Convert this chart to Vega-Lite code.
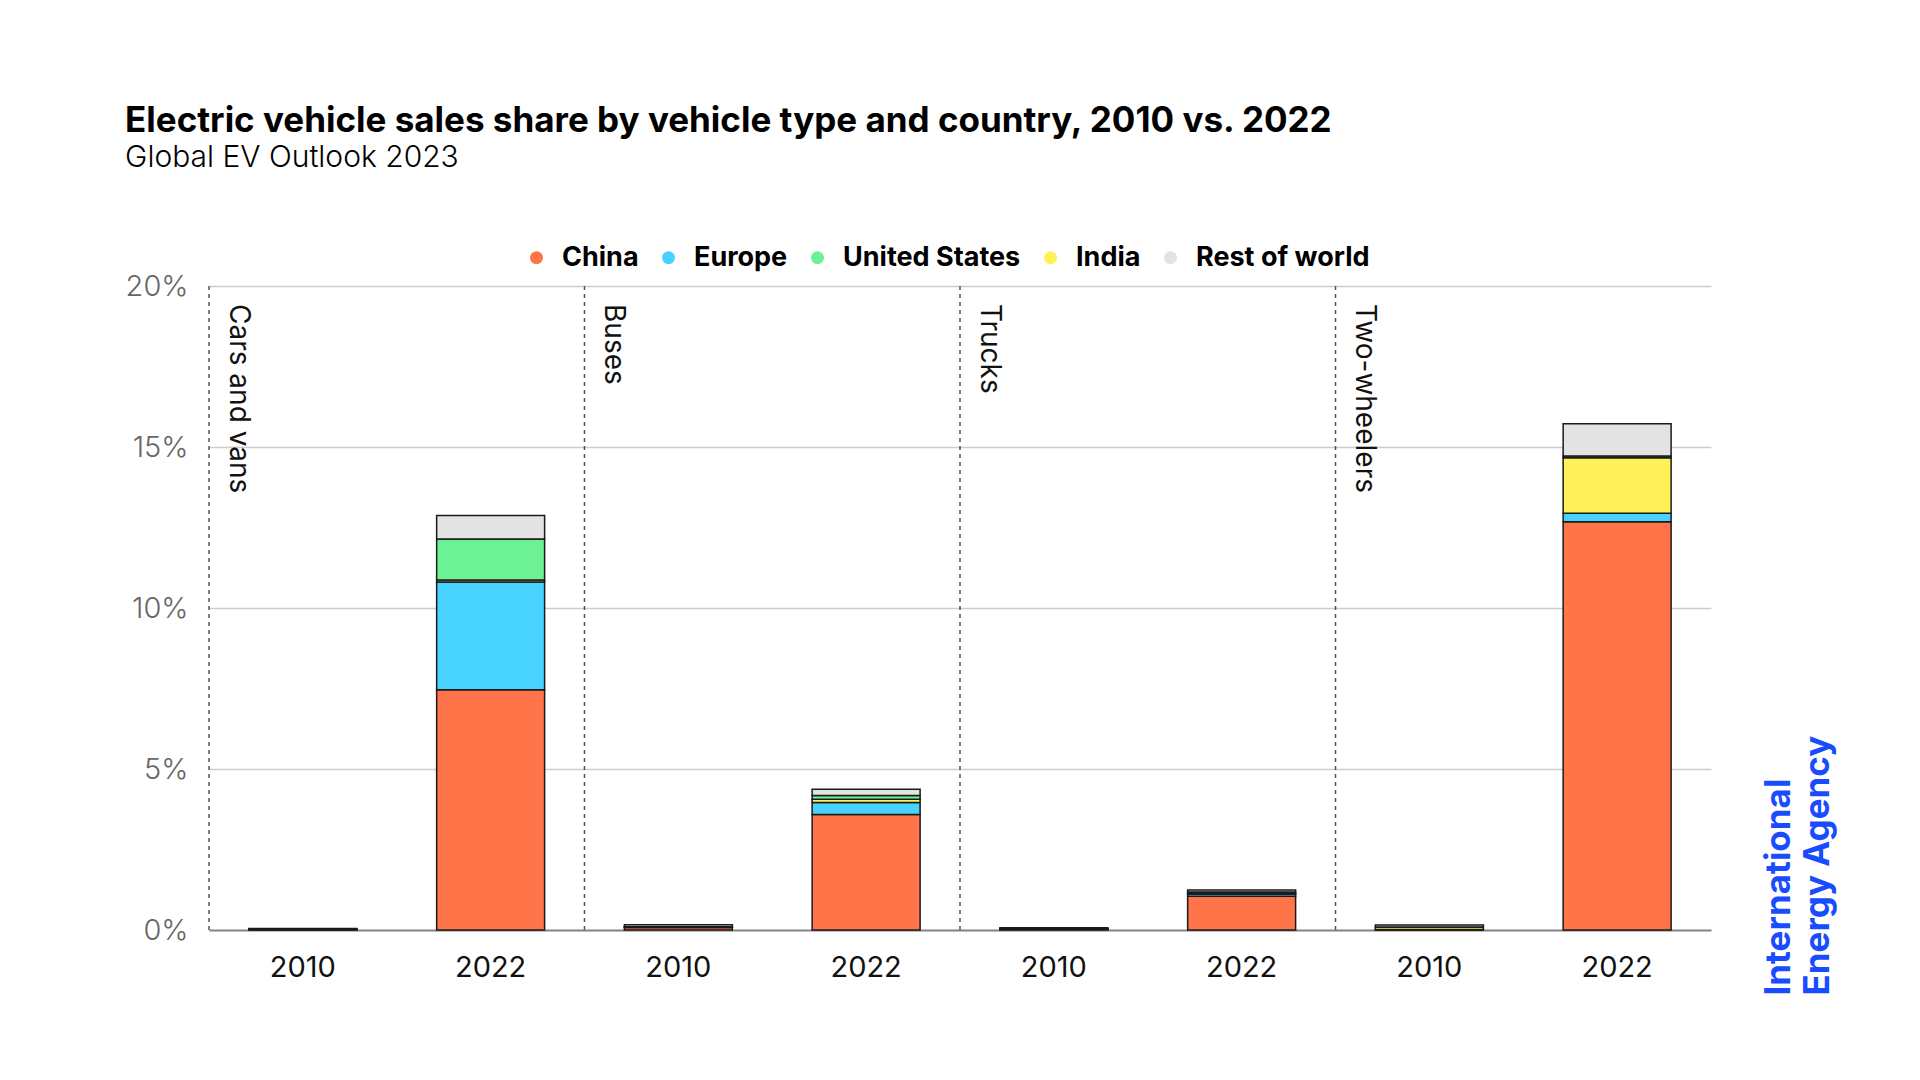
{
  "$schema": "https://vega.github.io/schema/vega-lite/v6.json",
  "width": 1502,
  "height": 644,
  "padding": {"left": 125, "top": 104, "right": 20, "bottom": 20},
  "background": "white",
  "title": {
    "text": "Electric vehicle sales share by vehicle type and country, 2010 vs. 2022",
    "subtitle": "Global EV Outlook 2023",
    "anchor": "start",
    "frame": "bounds",
    "font": "Inter",
    "fontSize": 35,
    "fontWeight": "bold",
    "color": "#000000",
    "subtitleFont": "Inter",
    "subtitleFontSize": 30,
    "subtitleFontWeight": 300,
    "subtitleColor": "#000000",
    "subtitlePadding": 4,
    "offset": 71
  },
  "data": {
    "values": [
      {"bar": "Cars and vans 2010", "type": "Cars and vans", "year": "2010", "region": "China", "stackOrder": 1, "share": 0.01},
      {"bar": "Cars and vans 2010", "type": "Cars and vans", "year": "2010", "region": "Europe", "stackOrder": 2, "share": 0.01},
      {"bar": "Cars and vans 2010", "type": "Cars and vans", "year": "2010", "region": "India", "stackOrder": 3, "share": 0.0},
      {"bar": "Cars and vans 2010", "type": "Cars and vans", "year": "2010", "region": "United States", "stackOrder": 4, "share": 0.02},
      {"bar": "Cars and vans 2010", "type": "Cars and vans", "year": "2010", "region": "Rest of world", "stackOrder": 5, "share": 0.01},
      {"bar": "Cars and vans 2022", "type": "Cars and vans", "year": "2022", "region": "China", "stackOrder": 1, "share": 7.46},
      {"bar": "Cars and vans 2022", "type": "Cars and vans", "year": "2022", "region": "Europe", "stackOrder": 2, "share": 3.35},
      {"bar": "Cars and vans 2022", "type": "Cars and vans", "year": "2022", "region": "India", "stackOrder": 3, "share": 0.06},
      {"bar": "Cars and vans 2022", "type": "Cars and vans", "year": "2022", "region": "United States", "stackOrder": 4, "share": 1.27},
      {"bar": "Cars and vans 2022", "type": "Cars and vans", "year": "2022", "region": "Rest of world", "stackOrder": 5, "share": 0.73},
      {"bar": "Buses 2010", "type": "Buses", "year": "2010", "region": "China", "stackOrder": 1, "share": 0.08},
      {"bar": "Buses 2010", "type": "Buses", "year": "2010", "region": "Europe", "stackOrder": 2, "share": 0.01},
      {"bar": "Buses 2010", "type": "Buses", "year": "2010", "region": "India", "stackOrder": 3, "share": 0.0},
      {"bar": "Buses 2010", "type": "Buses", "year": "2010", "region": "United States", "stackOrder": 4, "share": 0.01},
      {"bar": "Buses 2010", "type": "Buses", "year": "2010", "region": "Rest of world", "stackOrder": 5, "share": 0.06},
      {"bar": "Buses 2022", "type": "Buses", "year": "2022", "region": "China", "stackOrder": 1, "share": 3.59},
      {"bar": "Buses 2022", "type": "Buses", "year": "2022", "region": "Europe", "stackOrder": 2, "share": 0.37},
      {"bar": "Buses 2022", "type": "Buses", "year": "2022", "region": "India", "stackOrder": 3, "share": 0.1},
      {"bar": "Buses 2022", "type": "Buses", "year": "2022", "region": "United States", "stackOrder": 4, "share": 0.12},
      {"bar": "Buses 2022", "type": "Buses", "year": "2022", "region": "Rest of world", "stackOrder": 5, "share": 0.19},
      {"bar": "Trucks 2010", "type": "Trucks", "year": "2010", "region": "China", "stackOrder": 1, "share": 0.02},
      {"bar": "Trucks 2010", "type": "Trucks", "year": "2010", "region": "Europe", "stackOrder": 2, "share": 0.01},
      {"bar": "Trucks 2010", "type": "Trucks", "year": "2010", "region": "India", "stackOrder": 3, "share": 0.0},
      {"bar": "Trucks 2010", "type": "Trucks", "year": "2010", "region": "United States", "stackOrder": 4, "share": 0.01},
      {"bar": "Trucks 2010", "type": "Trucks", "year": "2010", "region": "Rest of world", "stackOrder": 5, "share": 0.03},
      {"bar": "Trucks 2022", "type": "Trucks", "year": "2022", "region": "China", "stackOrder": 1, "share": 1.05},
      {"bar": "Trucks 2022", "type": "Trucks", "year": "2022", "region": "Europe", "stackOrder": 2, "share": 0.07},
      {"bar": "Trucks 2022", "type": "Trucks", "year": "2022", "region": "India", "stackOrder": 3, "share": 0.01},
      {"bar": "Trucks 2022", "type": "Trucks", "year": "2022", "region": "United States", "stackOrder": 4, "share": 0.05},
      {"bar": "Trucks 2022", "type": "Trucks", "year": "2022", "region": "Rest of world", "stackOrder": 5, "share": 0.06},
      {"bar": "Two-wheelers 2010", "type": "Two-wheelers", "year": "2010", "region": "China", "stackOrder": 1, "share": 0.01},
      {"bar": "Two-wheelers 2010", "type": "Two-wheelers", "year": "2010", "region": "Europe", "stackOrder": 2, "share": 0.005},
      {"bar": "Two-wheelers 2010", "type": "Two-wheelers", "year": "2010", "region": "India", "stackOrder": 3, "share": 0.08},
      {"bar": "Two-wheelers 2010", "type": "Two-wheelers", "year": "2010", "region": "United States", "stackOrder": 4, "share": 0.0},
      {"bar": "Two-wheelers 2010", "type": "Two-wheelers", "year": "2010", "region": "Rest of world", "stackOrder": 5, "share": 0.06},
      {"bar": "Two-wheelers 2022", "type": "Two-wheelers", "year": "2022", "region": "China", "stackOrder": 1, "share": 12.68},
      {"bar": "Two-wheelers 2022", "type": "Two-wheelers", "year": "2022", "region": "Europe", "stackOrder": 2, "share": 0.26},
      {"bar": "Two-wheelers 2022", "type": "Two-wheelers", "year": "2022", "region": "India", "stackOrder": 3, "share": 1.73},
      {"bar": "Two-wheelers 2022", "type": "Two-wheelers", "year": "2022", "region": "United States", "stackOrder": 4, "share": 0.05},
      {"bar": "Two-wheelers 2022", "type": "Two-wheelers", "year": "2022", "region": "Rest of world", "stackOrder": 5, "share": 1.0}
    ]
  },
  "layer": [
    {
      "mark": {"type": "bar", "stroke": "#1a1a1a", "strokeWidth": 1.5},
      "encoding": {
        "x": {
          "field": "bar",
          "type": "nominal",
          "sort": null,
          "scale": {"paddingInner": 0.425, "paddingOuter": 0.2125},
          "axis": {
            "title": null,
            "labelExpr": "slice(datum.label, -4)",
            "labelAngle": 0,
            "labelFont": "Inter",
            "labelFontSize": 29,
            "labelColor": "#111111",
            "labelPadding": 23,
            "ticks": false,
            "domain": true,
            "domainColor": "#888888",
            "domainWidth": 2,
            "grid": false
          }
        },
        "y": {
          "field": "share",
          "type": "quantitative",
          "stack": "zero",
          "scale": {"domain": [0, 20], "nice": false},
          "axis": {
            "title": null,
            "values": [0, 5, 10, 15, 20],
            "labelExpr": "datum.value + '%'",
            "labelFont": "Inter",
            "labelFontSize": 29,
            "labelFontWeight": 300,
            "labelColor": "#666666",
            "labelPadding": 21,
            "domain": false,
            "ticks": false,
            "grid": true,
            "gridColor": "#cccccc",
            "gridWidth": 1.5
          }
        },
        "color": {
          "field": "region",
          "type": "nominal",
          "scale": {
            "domain": ["China", "Europe", "United States", "India", "Rest of world"],
            "range": ["#FF7549", "#48D2FF", "#6CF295", "#FFF15A", "#E3E3E3"]
          },
          "legend": {
            "orient": "none",
            "direction": "horizontal",
            "legendX": 314,
            "legendY": -42,
            "title": null,
            "symbolType": "circle",
            "symbolSize": 169,
            "symbolStrokeWidth": 0,
            "labelFont": "Inter",
            "labelFontSize": 27,
            "labelFontWeight": "bold",
            "labelColor": "#000000",
            "labelLimit": 0,
            "labelOffset": 12,
            "columnPadding": 16
          }
        },
        "order": {"field": "stackOrder", "type": "quantitative", "sort": "ascending"}
      }
    },
    {
      "transform": [{"filter": "datum.year == '2010' && datum.region == 'China'"}],
      "mark": {"type": "rule", "strokeDash": [4, 4], "color": "#555555", "strokeWidth": 1.5},
      "encoding": {
        "x": {"field": "bar", "type": "nominal", "sort": null, "bandPosition": -0.3696},
        "y": {
          "datum": 20,
          "type": "quantitative",
          "axis": {
            "orient": "right",
            "grid": false,
            "labels": false,
            "ticks": false,
            "domain": false,
            "title": ["International", "Energy Agency"],
            "titleColor": "#1A4CFF",
            "titleFont": "Inter",
            "titleFontWeight": "bold",
            "titleFontSize": 35,
            "titleLineHeight": 39,
            "titleAngle": -90,
            "titleAlign": "left",
            "titleBaseline": "top",
            "titleX": 50,
            "titleY": 709
          }
        },
        "y2": {"datum": 0}
      }
    },
    {
      "transform": [{"filter": "datum.year == '2010' && datum.region == 'China'"}],
      "mark": {"type": "text", "angle": 90, "align": "left", "baseline": "alphabetic", "dx": 18, "dy": -21, "font": "Inter", "fontSize": 28, "color": "#111111"},
      "encoding": {
        "x": {"field": "bar", "type": "nominal", "sort": null, "bandPosition": -0.3696},
        "y": {"datum": 20, "type": "quantitative", "axis": null},
        "text": {"field": "type"}
      }
    }
  ],
  "resolve": {"axis": {"y": "independent"}},
  "config": {
    "view": {"stroke": null},
    "font": "Inter"
  }
}
